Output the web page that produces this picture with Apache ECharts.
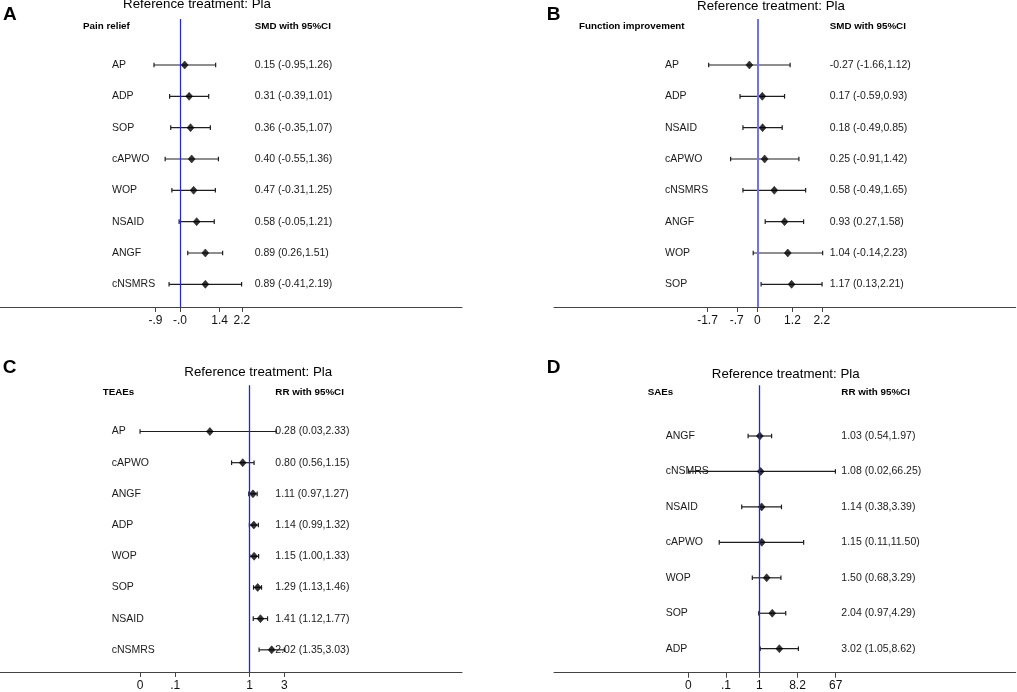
<!DOCTYPE html>
<html>
<head>
<meta charset="utf-8">
<script src="https://cdn.jsdelivr.net/npm/echarts@6/dist/echarts.min.js"></script>
<style>html,body{margin:0;padding:0;background:#fff;}#c{width:1017px;height:692px;}</style>
</head>
<body>
<div id="c"></div>
<script>
// ---- Data ----
const catA = ['AP','ADP','SOP','cAPWO','WOP','NSAID','ANGF','cNSMRS'];
const estA = [0.15,0.31,0.36,0.40,0.47,0.58,0.89,0.89];
const loA  = [-0.95,-0.39,-0.35,-0.55,-0.31,-0.05,0.26,-0.41];
const hiA  = [1.26,1.01,1.07,1.36,1.25,1.21,1.51,2.19];
const tickValA = [-0.9,-0.02,1.4,2.2];
const tickLabA = ['-.9','-.0','1.4','2.2'];

const catB = ['AP','ADP','NSAID','cAPWO','cNSMRS','ANGF','WOP','SOP'];
const estB = [-0.27,0.17,0.18,0.25,0.58,0.93,1.04,1.17];
const loB  = [-1.66,-0.59,-0.49,-0.91,-0.49,0.27,-0.14,0.13];
const hiB  = [1.12,0.93,0.85,1.42,1.65,1.58,2.23,2.21];
const tickValB = [-1.7,-0.7,0,1.2,2.2];
const tickLabB = ['-1.7','-.7','0','1.2','2.2'];

const catC = ['AP','cAPWO','ANGF','ADP','WOP','SOP','NSAID','cNSMRS'];
const estC = [0.28,0.80,1.11,1.14,1.15,1.29,1.41,2.02];
const loC  = [0.03,0.56,0.97,0.99,1.00,1.13,1.12,1.35];
const hiC  = [2.33,1.15,1.27,1.32,1.33,1.46,1.77,3.03];
const tickValC = [0.03,0.0926,1,3.03];
const tickLabC = ['0','.1','1','3'];

const catD = ['ANGF','cNSMRS','NSAID','cAPWO','WOP','SOP','ADP'];
const estD = [1.03,1.08,1.14,1.15,1.50,2.04,3.02];
const loD  = [0.54,0.02,0.38,0.11,0.68,0.97,1.05];
const hiD  = [1.97,66.25,3.39,11.50,3.29,4.29,8.62];
const tickValD = [0.02,0.16,1,8.2,67];
const tickLabD = ['0','.1','1','8.2','67'];

const headers = ['Pain relief','Function improvement','TEAEs','SAEs'];
const measures = ['SMD with 95%CI','SMD with 95%CI','RR with 95%CI','RR with 95%CI'];
const letters = ['A','B','C','D'];
const refTitle = 'Reference treatment: Pla';

// ---- Layout ----
const FONT = 'Liberation Sans, Arial, sans-serif';
const panels = [
  {cat:catA, est:estA, lo:loA, hi:hiA, tv:tickValA, tl:tickLabA, type:'value', ref:0,
   grid:{left:0, top:19, width:462, height:288}, xmin:-6.4695, xmax:10.0896, ymin:-1.468, ymax:7.724,
   labM:112, valM:254.7, tickM:8, blue:'#2020ff', blueW:1.2,
   letter:[3,14.5], title:[197,4.3], head:[83,26.3], meas:[254.7,26.3]},
  {cat:catB, est:estB, lo:loB, hi:hiB, tv:tickValB, tl:tickLabB, type:'value', ref:0,
   grid:{left:554, top:19, width:461.7, height:288}, xmin:-6.9386, xmax:8.8191, ymin:-1.468, ymax:7.724,
   labM:111, valM:275.7, tickM:8, blue:'#7070ff', blueW:2,
   letter:[546.7,14.5], title:[771,6.2], head:[579,26.3], meas:[829.7,26.3]},
  {cat:catC, est:estC, lo:loC, hi:hiC, tv:tickValC, tl:tickLabC, type:'log', ref:1,
   grid:{left:0, top:385.3, width:462, height:288}, xmin:3.404e-4, xmax:888.5, ymin:-1.481, ymax:7.711,
   labM:111.7, valM:275.3, tickM:8, blue:'#2020ff', blueW:1.3,
   letter:[2.7,367.8], title:[258.2,372.7], head:[102.7,392.7], meas:[275.3,392.7]},
  {cat:catD, est:estD, lo:loD, hi:hiD, tv:tickValD, tl:tickLabD, type:'log', ref:1,
   grid:{left:554, top:385.3, width:461.7, height:287.4}, xmin:1.226e-5, xmax:1.361e6, ymin:-1.430, ymax:6.677,
   labM:111.7, valM:287.3, tickM:7, blue:'#2020ff', blueW:1.3,
   letter:[546.7,367.8], title:[785.7,374.3], head:[647.7,392.2], meas:[841.3,392.2]}
];

function fmt(e,l,h){ return e.toFixed(2)+' ('+l.toFixed(2)+','+h.toFixed(2)+')'; }

function renderCI(params, api){
  const i = api.value(2);
  const a = api.coord([api.value(0), i]);
  const b = api.coord([api.value(1), i]);
  const h = 2.3;
  const st = {stroke:'#1e1e1e', lineWidth:1.2};
  return {type:'group', children:[
    {type:'line', shape:{x1:a[0],y1:a[1],x2:b[0],y2:b[1]}, style:st},
    {type:'line', shape:{x1:a[0],y1:a[1]-h,x2:a[0],y2:a[1]+h}, style:st},
    {type:'line', shape:{x1:b[0],y1:b[1]-h,x2:b[0],y2:b[1]+h}, style:st}
  ]};
}

const option = {animation:false, backgroundColor:'#fff', grid:[], xAxis:[], yAxis:[], series:[], title:[]};

function txt(text, x, y, size, bold, align){
  option.title.push({text:text, left:x, top:y, padding:0, textAlign:align||'left', textVerticalAlign:'middle',
    textStyle:{fontFamily:FONT, fontSize:size, fontWeight:bold?'bold':'normal', color:'#000'}});
}

panels.forEach((p, k) => {
  option.grid.push(p.grid);
  const idx = Array.from(p.cat.keys());
  const xa = {gridIndex:k, type:p.type, min:p.xmin, max:p.xmax, position:'bottom',
    axisLine:{show:true, onZero:false, lineStyle:{color:'#444', width:1}},
    axisTick:{show:true, customValues:p.tv, length:5, inside:false, lineStyle:{color:'#444', width:1}},
    axisLabel:{show:true, customValues:p.tv, margin:p.tickM, fontFamily:FONT, fontSize:12, color:'#111',
      formatter:(v, j) => { let best=0, bd=Infinity; p.tv.forEach((t,q)=>{const d=Math.abs(Math.log(Math.abs(t)+1e-9)-Math.log(Math.abs(v)+1e-9))+Math.abs(t-v); if(d<bd){bd=d;best=q;}}); return p.tl[best]; }},
    splitLine:{show:false}};
  if (p.type === 'log') xa.logBase = 10;
  option.xAxis.push(xa);
  const yBase = {gridIndex:k, type:'value', inverse:true, min:p.ymin, max:p.ymax, position:'left',
    axisLine:{show:false}, axisTick:{show:false}, splitLine:{show:false}};
  option.yAxis.push(Object.assign({}, yBase, {
    axisLabel:{show:true, inside:true, align:'left', margin:p.labM, customValues:idx, fontFamily:FONT, fontSize:10.5, color:'#1a1a1a',
      formatter:(v)=>p.cat[Math.round(v)]}}));
  option.yAxis.push(Object.assign({}, yBase, {
    axisLabel:{show:true, inside:true, align:'left', margin:p.valM, customValues:idx, fontFamily:FONT, fontSize:10.5, color:'#1a1a1a',
      formatter:(v)=>{const i=Math.round(v); return fmt(p.est[i],p.lo[i],p.hi[i]);}}}));
  option.series.push({type:'custom', xAxisIndex:k, yAxisIndex:2*k, renderItem:renderCI, z:2,
    encode:{x:[0,1], y:2}, data:idx.map(i=>[p.lo[i], p.hi[i], i])});
  option.series.push({type:'scatter', xAxisIndex:k, yAxisIndex:2*k, symbol:'diamond', symbolSize:[7,8], z:3,
    itemStyle:{color:'#000', borderColor:'#000', borderWidth:0.6}, data:idx.map(i=>[p.est[i], i]),
    markLine:{silent:true, symbol:'none', label:{show:false}, animation:false,
      lineStyle:{color:p.blue, width:p.blueW, type:'solid', opacity:1}, data:[{xAxis:p.ref}]}});
  txt(letters[k], p.letter[0], p.letter[1], 19, true);
  txt(refTitle, p.title[0], p.title[1], 13.3, false, 'center');
  txt(headers[k], p.head[0], p.head[1], 9.8, true);
  txt(measures[k], p.meas[0], p.meas[1], 9.8, true);
});

const chart = echarts.init(document.getElementById('c'), null, {renderer:'canvas'});
chart.setOption(option);
</script>
</body>
</html>
